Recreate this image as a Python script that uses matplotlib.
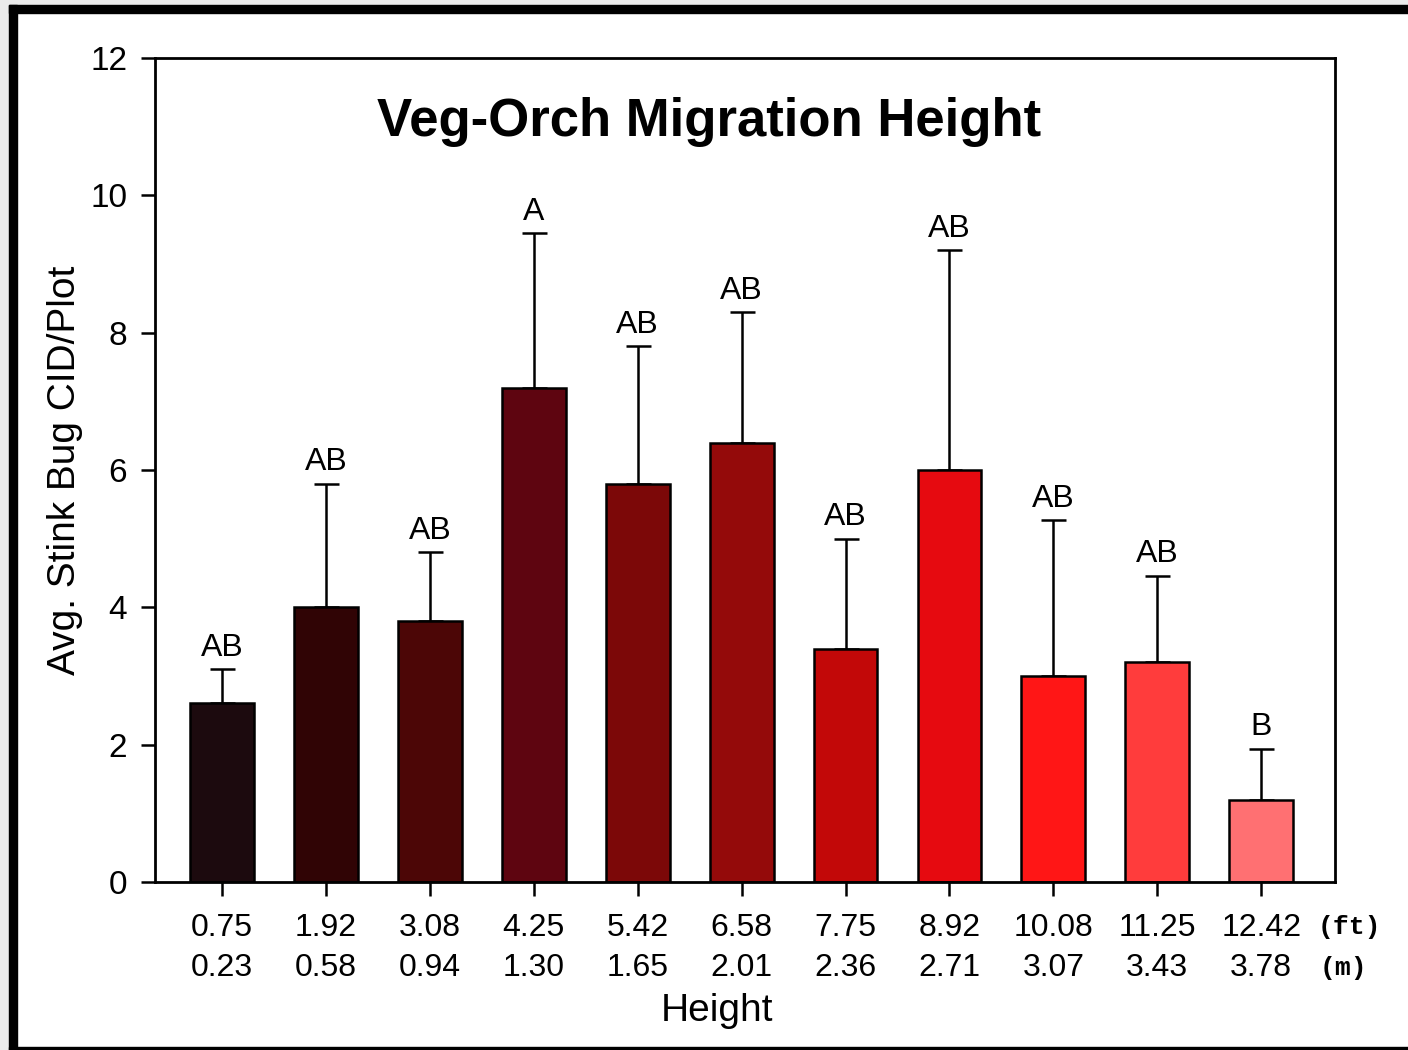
import numpy as np
import matplotlib.pyplot as plt
from matplotlib.patches import Rectangle

# data
height_ft = ["0.75", "1.92", "3.08", "4.25", "5.42", "6.58", "7.75", "8.92", "10.08", "11.25", "12.42"]
height_m = ["0.23", "0.58", "0.94", "1.30", "1.65", "2.01", "2.36", "2.71", "3.07", "3.43", "3.78"]
means = [2.6, 4.0, 3.8, 7.2, 5.8, 6.4, 3.4, 6.0, 3.0, 3.2, 1.2]
errors = [0.5, 1.8, 1.0, 2.25, 2.0, 1.9, 1.6, 3.2, 2.27, 1.26, 0.74]
letters = ["AB", "AB", "AB", "A", "AB", "AB", "AB", "AB", "AB", "AB", "B"]
colors = ["#1c0a0e", "#300405", "#4c0606", "#5e0510", "#7c0808", "#940a0a",
          "#c20808", "#e60a10", "#ff1616", "#ff3c3c", "#ff7072"]

plt.rcParams['font.family'] = ['Liberation Sans', 'DejaVu Sans']

fig = plt.figure(figsize=(14.08, 10.5), dpi=100)
W, H = 1408, 1050
ax = fig.add_axes([155 / W, 1 - 882 / H, (1335 - 155) / W, (882 - 58) / H])

x = np.arange(len(means))
ax.bar(x, means, width=0.615, color=colors, edgecolor="black", linewidth=1.8, zorder=2)
ax.errorbar(x, means, yerr=[np.zeros(len(errors)), errors], fmt="none", ecolor="black",
            elinewidth=1.8, capsize=9, capthick=1.8, zorder=1)

for xi, m, e, lab in zip(x, means, errors, letters):
    ax.annotate(lab, (xi, m + e), xytext=(0, 15.5), textcoords="offset points",
                ha="center", va="center", fontsize=23)

ax.set_xlim(-0.645, 10.71)
ax.set_ylim(0, 12)
ax.set_yticks(np.arange(0, 13, 2))
ax.set_xticks(x)
ax.set_xticklabels([f"{a}\n{b}" for a, b in zip(height_ft, height_m)], fontsize=23, linespacing=1.45)
ax.tick_params(axis="y", labelsize=24, length=10, width=1.8, direction="out", pad=10)
ax.tick_params(axis="x", length=10, width=1.8, direction="out", pad=12)
for s in ax.spines.values():
    s.set_linewidth(2)

ax.text(0.9856, -0.0546, "(ft)", transform=ax.transAxes, fontsize=19, family="Liberation Mono",
        weight="bold", ha="left", va="center")
ax.text(0.9873, -0.1044, "(m)", transform=ax.transAxes, fontsize=19, family="Liberation Mono",
        weight="bold", ha="left", va="center")

ax.text(0.4695, 0.922, "Veg-Orch Migration Height", transform=ax.transAxes,
        fontsize=38, weight="bold", ha="center", va="center")
ax.set_ylabel("Avg. Stink Bug CID/Plot", fontsize=28, labelpad=5)
ax.set_xlabel("Height", fontsize=28)
ax.xaxis.set_label_coords(0.476, -0.135)

# screenshot frame
fig.patches.append(Rectangle((0, 0), 9 / W, 1, transform=fig.transFigure, color="#ebebeb", zorder=-1))
fig.patches.append(Rectangle((0, 1 - 5 / H), 1, 5 / H, transform=fig.transFigure, color="#ebebeb", zorder=-1))
fig.patches.append(Rectangle((9 / W, 0), 8 / W, 1 - 5 / H, transform=fig.transFigure, color="black", zorder=-1))
fig.patches.append(Rectangle((9 / W, 1 - 13 / H), 1, 8 / H, transform=fig.transFigure, color="black", zorder=-1))
fig.patches.append(Rectangle((9 / W, 0), 1, 3 / H, transform=fig.transFigure, color="black", zorder=-1))

fig.savefig("out.png", dpi=100)
